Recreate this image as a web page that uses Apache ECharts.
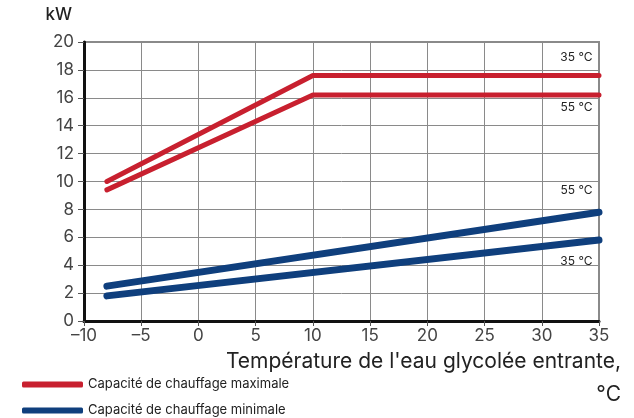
<!DOCTYPE html>
<html>
<head>
<meta charset="utf-8">
<script src="https://cdn.jsdelivr.net/npm/echarts@6/dist/echarts.min.js"></script>
<style>
  html, body { margin: 0; padding: 0; background: #fff; }
  #chart { width: 634px; height: 418px; }
</style>
</head>
<body>
<div id="chart"></div>
<script>
// Inlet brine temperature (°C) and heating capacity (kW)
const maxTemps = [-8, 10, 35];
const max35 = [10.0, 17.6, 17.6];
const max55 = [9.4, 16.2, 16.2];
const minTemps = [-8, 35];
const min55 = [2.5, 7.8];
const min35 = [1.8, 5.8];
const xTicks = [-10, -5, 0, 5, 10, 15, 20, 25, 30, 35];
const yTicks = [0, 2, 4, 6, 8, 10, 12, 14, 16, 18, 20];
const seriesNames = ['Capacité de chauffage maximale', 'Capacité de chauffage minimale'];
// curve tags: [text, value the tag sits at, at the right edge]
const tags = [['35 °C', 18.9], ['55 °C', 15.3], ['55 °C', 9.35], ['35 °C', 4.3]];

const RED = '#c8202f';
const BLUE = '#0f3f7d';
const FONT = 'Inter, Roboto, "Noto Sans", sans-serif';

function pairs(xs, ys) { return xs.map((x, i) => [x, ys[i]]); }

function tagPoint(t) {
  return {
    symbol: 'circle', symbolSize: 1, silent: true,
    itemStyle: { color: 'rgba(0,0,0,0)' },
    data: [{ coord: [xTicks[xTicks.length - 1], t[1]], value: t[0] }],
    label: {
      show: true, formatter: t[0], position: 'left', distance: 6,
      color: '#222', fontSize: 12, fontFamily: FONT
    }
  };
}

function line(name, data, color, width, tag) {
  return {
    name, type: 'line', data, symbol: 'none', animation: false,
    lineStyle: { color, width, cap: 'round', join: 'round' },
    itemStyle: { color },
    markPoint: tagPoint(tag)
  };
}

function legendRow(name, top) {
  return {
    orient: 'horizontal', left: 17, top,
    itemWidth: 61, itemHeight: 6, icon: 'roundRect',
    textStyle: { color: '#222', fontSize: 13, fontFamily: FONT, padding: [0, 0, 0, 0] },
    data: [name]
  };
}

const chart = echarts.init(document.getElementById('chart'), null, { renderer: 'canvas' });
chart.setOption({
  animation: false,
  textStyle: { fontFamily: FONT },
  grid: {
    left: 84, right: 35, top: 42, bottom: 97,
    show: true, borderColor: '#8a8a8a', borderWidth: 2, backgroundColor: 'transparent'
  },
  legend: [legendRow(seriesNames[0], 373), legendRow(seriesNames[1], 399)],
  xAxis: {
    type: 'value', min: xTicks[0], max: xTicks[xTicks.length - 1], interval: 5,
    axisLine: { onZero: false, lineStyle: { color: '#111', width: 3 } },
    axisTick: { show: true, length: 5, lineStyle: { color: '#555', width: 1 } },
    splitLine: { lineStyle: { color: '#8a8a8a', width: 1 } },
    axisLabel: {
      color: '#444', fontSize: 17, margin: 6, fontFamily: FONT,
      formatter: v => String(v).replace('-', '–')
    }
  },
  yAxis: {
    type: 'value', min: yTicks[0], max: yTicks[yTicks.length - 1], interval: 2,
    axisLine: { show: true, onZero: false, lineStyle: { color: '#111', width: 3 } },
    axisTick: { show: true, length: 6, lineStyle: { color: '#555', width: 1 } },
    splitLine: { lineStyle: { color: '#8a8a8a', width: 1 } },
    axisLabel: { color: '#444', fontSize: 17, margin: 10, fontFamily: FONT }
  },
  graphic: [
    {
      type: 'text', right: 562, top: 6,
      style: { text: 'kW', fill: '#222', font: '500 17px ' + FONT }
    },
    {
      type: 'text', right: 13, top: 351,
      style: { text: "Température de l'eau glycolée entrante,", fill: '#222', font: '21px ' + FONT }
    },
    {
      type: 'text', right: 13, top: 384,
      style: { text: '°C', fill: '#222', font: '21px ' + FONT }
    }
  ],
  series: [
    line(seriesNames[0], pairs(maxTemps, max35), RED, 5, tags[0]),
    line(seriesNames[0], pairs(maxTemps, max55), RED, 5, tags[1]),
    line(seriesNames[1], pairs(minTemps, min55), BLUE, 7, tags[2]),
    line(seriesNames[1], pairs(minTemps, min35), BLUE, 7, tags[3])
  ]
});
</script>
</body>
</html>
